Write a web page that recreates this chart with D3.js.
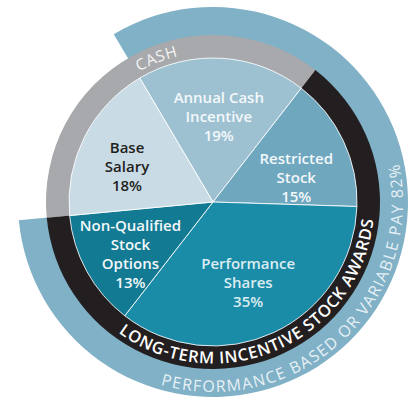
<!DOCTYPE html>
<html>
<head>
<meta charset="utf-8">
<script src="https://cdn.jsdelivr.net/npm/d3@7"></script>
<style>
  html, body { margin: 0; padding: 0; background: #fff; }
  #chart { width: 419px; height: 403px; }
</style>
</head>
<body>
<div id="chart"></div>
<script>
// Pay mix pie with grouped rings
const slices = ["Annual Cash Incentive", "Restricted Stock", "Performance Shares", "Non-Qualified Stock Options", "Base Salary"];
const sliceValues = [19, 15, 35, 13, 18];
const sliceLines = [
  ["Annual Cash", "Incentive", "19%"],
  ["Restricted", "Stock", "15%"],
  ["Performance", "Shares", "35%"],
  ["Non-Qualified", "Stock", "Options", "13%"],
  ["Base", "Salary", "18%"]
];
const ringLabels = ["CASH", "LONG-TERM INCENTIVE STOCK AWARDS"];
const ringValues = [37, 63];
const outerLabel = "PERFORMANCE BASED OR VARIABLE PAY 82%";
const outerValues = [82, 18];

(function() {
  "use strict";

  const width = 419, height = 403;
  const cx = 213, cy = 202;
  const rPie = 144, rRing = 167, rOuter = 195;
  const deg = Math.PI / 180;
  const start = -30.6 * deg; // annual cash incentive starts here

  const sliceColors = ["#9ec1d2", "#6fa7bf", "#1b8ca8", "#137a93", "#c9dce6"];
  const sliceText = ["#f3f8fa", "#f3f8fa", "#dcedf2", "#f3f8fa", "#231f20"];
  const ringColors = ["#a7a9ac", "#231f20"];
  // small hand nudges for the label blocks
  const nudge = [[0, 0], [0, 9], [-4, -9], [-2, 2], [-4, 0]];

  const svg = d3.select("#chart").append("svg")
      .attr("width", width)
      .attr("height", height)
      .attr("viewBox", [0, 0, width, height])
      .style("font-family", "'Open Sans', Lato, sans-serif");

  const g = svg.append("g").attr("transform", `translate(${cx},${cy})`);

  // outer band: variable pay, drawn from the start of the annual incentive
  const outerPie = d3.pie().sort(null).value(d => d).startAngle(start).endAngle(start + 2 * Math.PI);
  const outerArc = d3.arc().innerRadius(rRing - 1).outerRadius(rOuter);
  g.append("path")
      .attr("d", outerArc(outerPie(outerValues)[0]))
      .attr("fill", "#80b1c7");

  // cash / long-term ring, starts where base salary begins
  const ringStart = start - sliceValues[4] / 100 * 2 * Math.PI;
  const ringPie = d3.pie().sort(null).value(d => d).startAngle(ringStart).endAngle(ringStart + 2 * Math.PI);
  const ringArc = d3.arc().innerRadius(rPie - 1).outerRadius(rRing);
  g.append("g").selectAll("path")
    .data(ringPie(ringValues))
    .join("path")
      .attr("d", ringArc)
      .attr("fill", (d, i) => ringColors[i]);

  // pie slices
  const pie = d3.pie().sort(null).value(d => d).startAngle(start).endAngle(start + 2 * Math.PI);
  const arc = d3.arc().innerRadius(0).outerRadius(rPie);
  const arcs = pie(sliceValues);
  g.append("g").selectAll("path")
    .data(arcs)
    .join("path")
      .attr("d", arc)
      .attr("fill", (d, i) => sliceColors[i])
      .attr("stroke", "#fff")
      .attr("stroke-opacity", 0.85)
      .attr("stroke-width", 1);

  // slice labels
  const labelArc = d3.arc().innerRadius(92).outerRadius(92);
  const lineH = 19;
  g.append("g").selectAll("text")
    .data(arcs)
    .join("text")
      .attr("text-anchor", "middle")
      .attr("font-size", 15)
      .attr("font-weight", 600)
      .attr("fill", (d, i) => sliceText[i])
      .each(function(d, i) {
        const [x, y] = labelArc.centroid(d);
        const lines = sliceLines[i];
        d3.select(this).selectAll("tspan")
          .data(lines)
          .join("tspan")
            .attr("x", x + nudge[i][0])
            .attr("y", (t, j) => y + 6 + nudge[i][1] + (j - (lines.length - 1) / 2) * lineH)
            .attr("dy", "0.36em")
            .text(t => t);
      });

  // curved ring text
  const defs = svg.append("defs");
  function circlePath(r, a0, a1, ccw) {
    const p = d3.path();
    p.arc(0, 0, r, a0 - Math.PI / 2, a1 - Math.PI / 2, ccw);
    return p.toString();
  }
  function curvedText(id, label, r, mid, ccw, span, size, weight, fill) {
    const half = 100 * deg;
    const d = ccw ? circlePath(r, mid + half, mid - half, true) : circlePath(r, mid - half, mid + half, false);
    defs.append("path").attr("id", id).attr("d", d);
    const t = g.append("text")
        .attr("font-size", size)
        .attr("font-weight", weight)
        .attr("fill", fill);
    const tp = t.append("textPath")
        .attr("href", "#" + id)
        .attr("startOffset", "50%")
        .attr("text-anchor", "middle")
        .text(label);
    // spread letters so the label covers the wanted angle
    const target = span * deg * r;
    const len = tp.node().getComputedTextLength();
    const ls = (target - len) / (label.length - 1);
    t.attr("letter-spacing", ls);
  }

  curvedText("cashPath", ringLabels[0], 150, -21.4 * deg, false, 16, 15.5, 400, "#f4f4f4");
  curvedText("ltiPath", ringLabels[1], 161.5, 156 * deg, true, 119.6, 16.5, 600, "#ffffff");
  curvedText("outerPath", outerLabel, 190, 137 * deg, true, 117.5, 16, 400, "#e6f0f5");
})();
</script>
</body>
</html>
